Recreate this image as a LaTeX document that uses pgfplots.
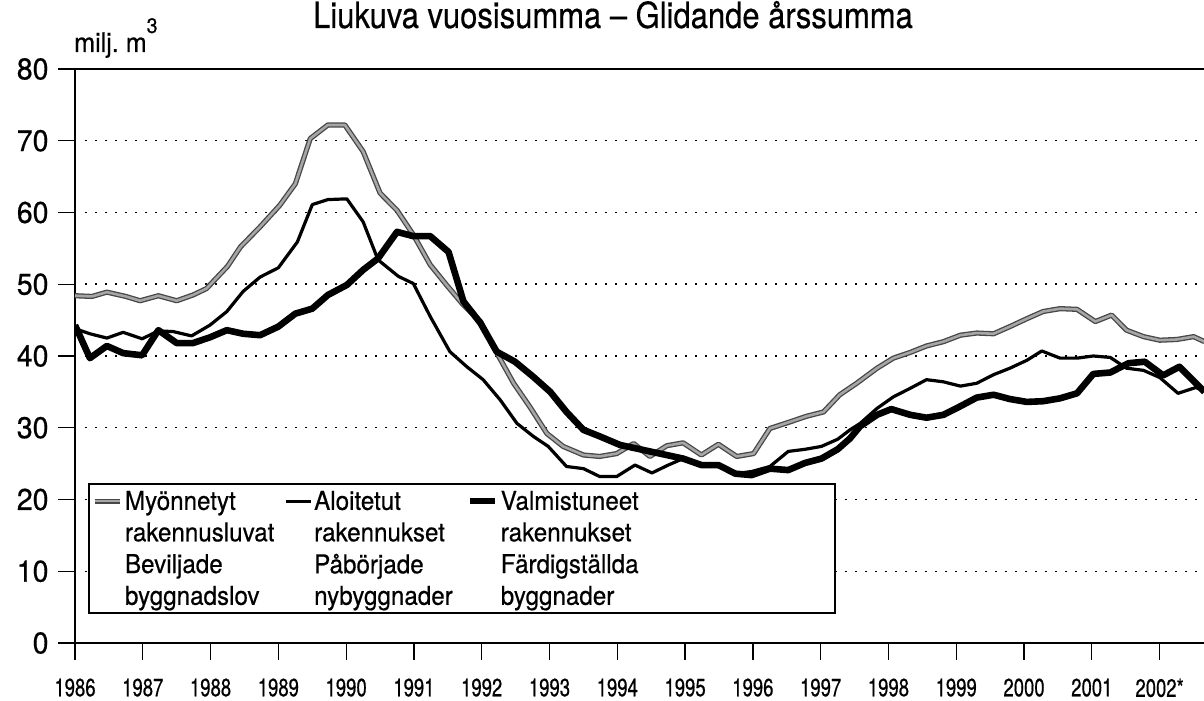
\documentclass[border=0pt]{standalone}
\usepackage{fontspec}
\setmainfont[FakeStretch=0.8, FakeBold=0.5]{TeX Gyre Heros}
\newfontfamily\yearfont[FakeStretch=0.74, FakeBold=0.5]{TeX Gyre Heros}
\newfontfamily\titlefont[FakeStretch=0.86, FakeBold=0.4]{TeX Gyre Heros}
\newfontfamily\legfont[FakeStretch=0.93, FakeBold=0.5]{TeX Gyre Heros}
\newfontfamily\ylabfont[FakeStretch=0.95, FakeBold=0.6]{TeX Gyre Heros}
\usepackage{pgfplots}
\pgfplotsset{compat=1.18}
\usepackage{pgfplotstable}

\pgfplotstableread{
t v
1986.00 48.4
1986.25 48.3
1986.47 48.9
1986.75 48.3
1986.96 47.7
1987.23 48.4
1987.50 47.7
1987.74 48.5
1987.94 49.4
1988.09 50.9
1988.25 52.5
1988.44 55.2
1988.73 58.0
1989.02 61.0
1989.25 64.0
1989.47 70.3
1989.73 72.2
1989.98 72.2
1990.25 68.5
1990.50 62.7
1990.75 60.3
1990.99 56.9
1991.24 52.7
1991.48 49.9
1991.73 47.1
1991.98 44.8
1992.17 41.3
1992.47 36.2
1992.71 32.9
1992.96 29.2
1993.20 27.4
1993.50 26.2
1993.74 26.0
1993.99 26.4
1994.24 27.8
1994.48 26.0
1994.73 27.5
1994.97 27.9
1995.24 26.2
1995.49 27.7
1995.76 26.0
1996.01 26.4
1996.25 29.9
1996.54 30.8
1996.79 31.6
1997.04 32.2
1997.28 34.6
1997.53 36.2
1997.83 38.3
1998.07 39.7
1998.32 40.5
1998.56 41.4
1998.81 42.0
1999.06 42.9
1999.30 43.2
1999.55 43.1
1999.79 44.1
2000.04 45.2
2000.28 46.2
2000.53 46.6
2000.78 46.5
2001.05 44.8
2001.29 45.7
2001.51 43.6
2001.76 42.7
2002.00 42.2
2002.25 42.3
2002.50 42.7
2002.66 42.0
}\myon

\pgfplotstableread{
t v
1986.00 43.8
1986.22 43.1
1986.47 42.5
1986.71 43.3
1986.99 42.4
1987.23 43.5
1987.45 43.4
1987.72 42.8
1987.99 44.3
1988.24 46.2
1988.48 49.0
1988.73 51.0
1989.00 52.3
1989.28 55.9
1989.50 61.1
1989.73 61.8
1990.01 61.9
1990.25 58.7
1990.47 53.4
1990.77 51.1
1990.99 50.1
1991.24 45.5
1991.53 40.6
1991.78 38.5
1992.02 36.7
1992.27 33.9
1992.52 30.6
1992.76 28.8
1992.98 27.4
1993.25 24.6
1993.50 24.3
1993.74 23.2
1993.99 23.2
1994.26 24.8
1994.51 23.7
1994.75 24.8
1994.97 25.7
1995.24 24.8
1995.49 24.6
1995.74 23.6
1995.98 23.9
1996.25 24.6
1996.52 26.7
1996.77 27.0
1997.01 27.4
1997.25 28.4
1997.43 29.7
1997.58 30.6
1997.83 32.7
1998.07 34.3
1998.32 35.5
1998.56 36.7
1998.81 36.4
1999.06 35.8
1999.30 36.2
1999.55 37.4
1999.79 38.3
2000.04 39.4
2000.26 40.7
2000.53 39.7
2000.78 39.7
2001.02 40.0
2001.27 39.8
2001.51 38.3
2001.76 38.0
2002.00 37.0
2002.27 34.8
2002.53 35.6
2002.66 35.2
}\aloit

\pgfplotstableread{
t v
1986.00 44.3
1986.22 39.7
1986.47 41.4
1986.71 40.4
1986.99 40.1
1987.23 43.6
1987.50 41.8
1987.74 41.8
1987.99 42.6
1988.24 43.6
1988.48 43.1
1988.73 42.9
1989.00 44.1
1989.25 45.9
1989.50 46.6
1989.73 48.5
1990.01 49.9
1990.25 52.0
1990.47 53.6
1990.75 57.3
1990.99 56.7
1991.24 56.7
1991.51 54.5
1991.73 47.6
1991.98 44.6
1992.22 40.6
1992.49 39.2
1992.76 37.1
1993.01 35.0
1993.25 32.2
1993.50 29.7
1993.74 28.8
1994.04 27.6
1994.48 26.7
1994.97 25.7
1995.24 24.8
1995.49 24.8
1995.74 23.6
1995.98 23.4
1996.25 24.3
1996.52 24.1
1996.77 25.1
1997.01 25.7
1997.25 27.0
1997.43 28.5
1997.58 30.2
1997.83 31.8
1998.04 32.6
1998.32 31.8
1998.56 31.4
1998.81 31.8
1999.06 33.0
1999.30 34.2
1999.55 34.6
1999.79 34.0
2000.04 33.6
2000.28 33.7
2000.53 34.1
2000.78 34.8
2001.02 37.5
2001.27 37.7
2001.54 39.0
2001.78 39.2
2002.05 37.3
2002.29 38.5
2002.66 35.0
}\valm

\tikzset{
  graystyle/.style={draw=black!72, double=black!35, double distance=2.6pt, line width=1.3pt, line join=round},
  thinstyle/.style={draw=black, line width=3.2pt, line join=round},
  thickstyle/.style={draw=black, line width=6.6pt, line join=round},
}

\begin{document}
\begin{tikzpicture}
\begin{axis}[
  scale only axis, width=1129pt, height=574pt,
  xmin=1986, xmax=2002.653, ymin=0, ymax=80,
  axis x line*=bottom, axis y line*=left,
  axis line style={line width=2.2pt},
  xtick={1986,...,2002},
  xticklabels={1986,1987,1988,1989,1990,1991,1992,1993,1994,1995,1996,1997,1998,1999,2000,2001,2002*},
  minor x tick num=3,
  ytick={0,10,...,80},
  yticklabels={0,10,20,30,40,50,60,70,80},
  tick align=outside,
  major tick length=17pt, minor tick length=8pt,
  every tick/.style={black, line width=1.3pt},
  ymajorgrids,
  major grid style={black, line width=1.5pt, dash pattern=on 1.5pt off 8.5pt},
  xticklabel style={font=\yearfont\fontsize{25}{25}\selectfont, yshift=-15pt},
  yticklabel style={font=\ylabfont\fontsize{30}{30}\selectfont, xshift=-6pt},
  legend columns=3,
  legend cell align=left,
  legend image code/.code={\draw[#1] (0pt,0pt) -- (25pt,0pt);},
  legend style={at={(axis cs:1986.19,22.3)}, anchor=north west,
    draw=black, line width=1.8pt, fill=white,
    font=\legfont\fontsize{26}{26}\selectfont,
    inner xsep=4pt, inner ysep=5pt, row sep=7pt,
    nodes={inner xsep=2pt, inner ysep=2pt},
  },
]
\addlegendimage{graystyle}
\addlegendimage{thinstyle}
\addlegendimage{thickstyle}
\addlegendimage{empty legend}
\addlegendimage{empty legend}
\addlegendimage{empty legend}
\addlegendimage{empty legend}
\addlegendimage{empty legend}
\addlegendimage{empty legend}
\addlegendimage{empty legend}
\addlegendimage{empty legend}
\addlegendimage{empty legend}
\legend{\makebox[157pt][l]{Myönnetyt}, \makebox[151pt][l]{Aloitetut}, \makebox[328pt][l]{Valmistuneet},
  rakennusluvat, rakennukset, rakennukset,
  Beviljade, Påbörjade, Färdigställda,
  byggnadslov, nybyggnader, byggnader}

\addplot[graystyle, forget plot] table[x=t, y=v] {\myon};
\addplot[thinstyle, forget plot] table[x=t, y=v] {\aloit};
\addplot[thickstyle, forget plot] table[x=t, y=v] {\valm};

\draw[line width=2.2pt] (rel axis cs:0,1) -- (rel axis cs:1,1);
\end{axis}
\node[anchor=base west, font=\legfont\fontsize{27}{27}\selectfont, inner sep=0pt]
  at ([xshift=-1pt, yshift=17pt]current axis.north west) {milj.~m\raisebox{19pt}{\fontsize{21}{21}\selectfont 3}};
\node[anchor=base, font=\titlefont\fontsize{36}{36}\selectfont, inner sep=0pt]
  at ([xshift=538pt, yshift=41pt]current axis.north west) {Liukuva vuosisumma – Glidande årssumma};
\pgfresetboundingbox
\path[use as bounding box] ([xshift=-75pt,yshift=-57pt]current axis.south west) rectangle ([yshift=69pt]current axis.north east);
\end{tikzpicture}
\end{document}
